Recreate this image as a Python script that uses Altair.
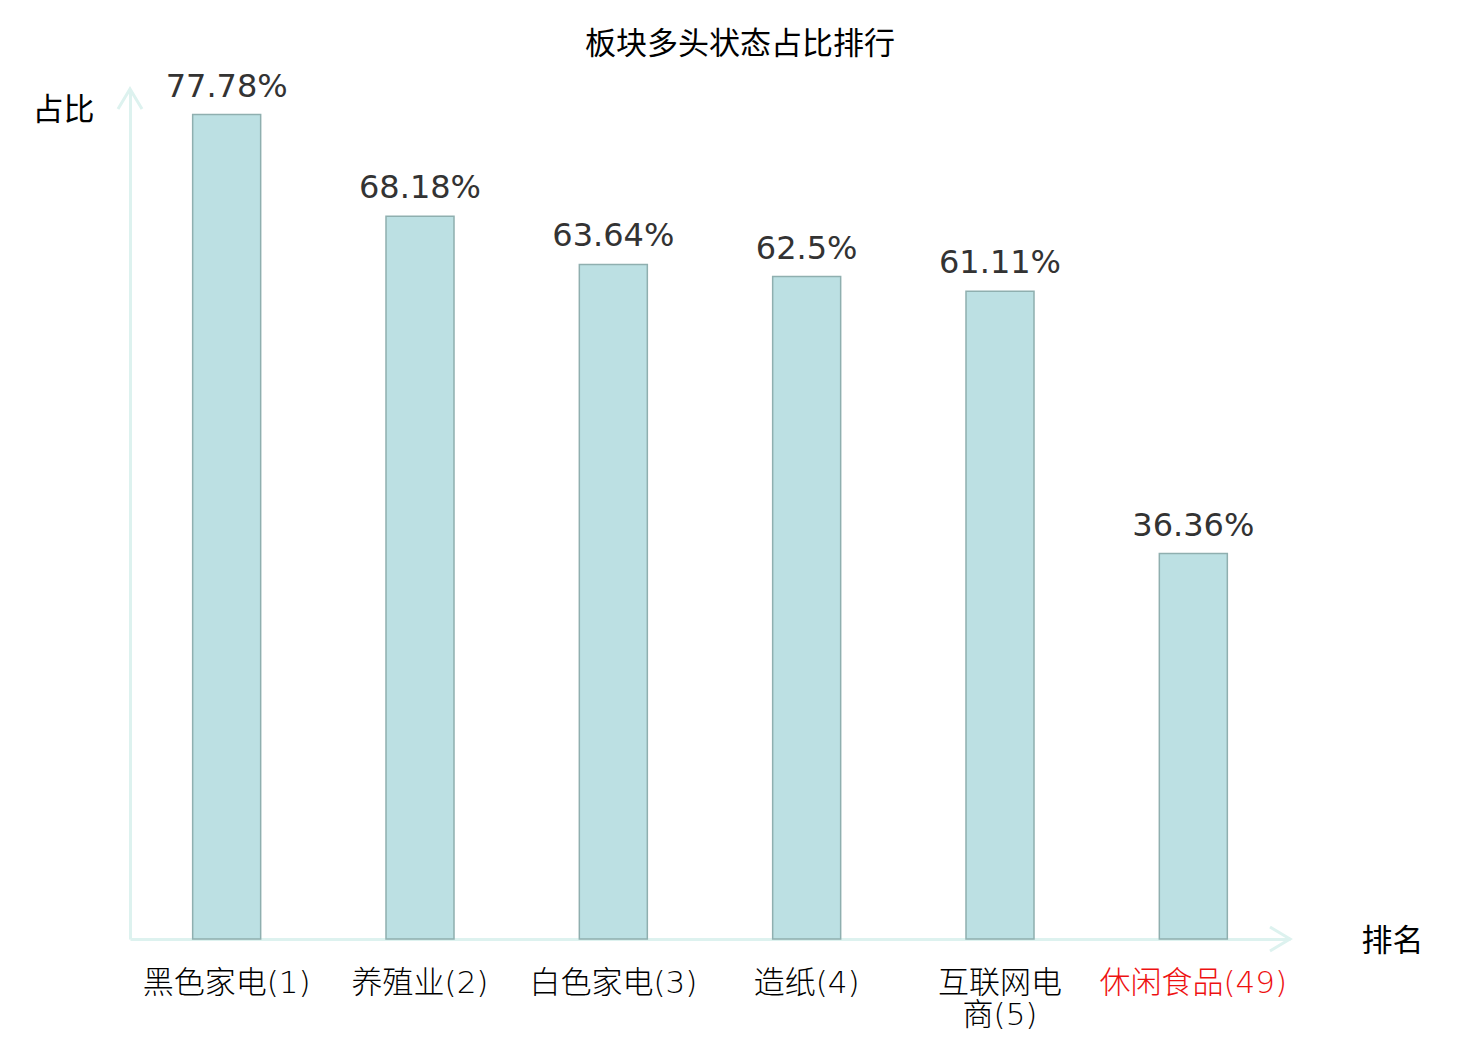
import altair as alt
import pandas as pd

categories = ["黑色家电(1)", "养殖业(2)", "白色家电(3)", "造纸(4)", "互联网电商(5)", "休闲食品(49)"]
values = [77.78, 68.18, 63.64, 62.5, 61.11, 36.36]
value_labels = [f"{v}%" for v in values]
highlight = "休闲食品(49)"
wrapped = {"互联网电商(5)": ["互联网电", "商(5)"]}

df = pd.DataFrame({"cat": categories, "val": values, "lbl": value_labels})

AXIS_COLOR = "#DDF2EF"
CJK = "Noto Sans CJK SC"
MIXED = "DejaVu Sans, Noto Sans CJK SC"

label_expr = " : ".join(
    [f"datum.value === '{k}' ? {v!r}" for k, v in wrapped.items()] + ["datum.label"]
)

x_enc = alt.X(
    "cat:N",
    sort=categories,
    scale=alt.Scale(paddingInner=0, paddingOuter=0),
    axis=alt.Axis(
        title="排名",
        titleX=1262,
        titleY=2,
        titleAlign="center",
        titleBaseline="middle",
        titleAngle=0,
        titleFont=CJK,
        titleFontSize=31,
        titleFontWeight="normal",
        titleColor="#000000",
        domainColor=AXIS_COLOR,
        domainWidth=3,
        ticks=False,
        labelAngle=0,
        labelFont=MIXED,
        labelFontSize=31,
        labelFontWeight=200,
        labelPadding=29,
        labelLineHeight=32,
        labelExpr=label_expr,
        labelColor={"condition": {"test": f"datum.value === '{highlight}'", "value": "#ee1111"}, "value": "#000000"},
        labelOverlap=False,
        labelLimit=0,
    ),
)

y_enc = alt.Y(
    "val:Q",
    scale=alt.Scale(domain=[0, 80], nice=False),
    axis=alt.Axis(
        title="占比",
        titleX=-67,
        titleY=19,
        titleAlign="center",
        titleBaseline="middle",
        titleAngle=0,
        titleFont=CJK,
        titleFontSize=31,
        titleFontWeight="normal",
        titleColor="#000000",
        domainColor=AXIS_COLOR,
        domainWidth=3,
        ticks=False,
        labels=False,
        grid=False,
    ),
)

base = alt.Chart(df)

bars = base.mark_bar(size=68, fill="#BCE0E3", stroke="#8FAFAF", strokeWidth=1.5).encode(
    x=x_enc, y=y_enc
)

texts = base.mark_text(
    baseline="alphabetic", dy=-18, fontSize=32, font="DejaVu Sans", color="#333333"
).encode(x=alt.X("cat:N", sort=categories), y="val:Q", text="lbl:N")

arrow_df = pd.DataFrame({"a": [0]})
x_arrow = alt.Chart(arrow_df).mark_point(
    shape="M -2 -1.2 L 0 0 L -2 1.2", size=400, filled=False,
    stroke=AXIS_COLOR, strokeWidth=3, opacity=1,
).encode(x=alt.value(1160), y=alt.value(848))
y_arrow = alt.Chart(arrow_df).mark_point(
    shape="M -1.2 2 L 0 0 L 1.2 2", size=400, filled=False,
    stroke=AXIS_COLOR, strokeWidth=3, opacity=1,
).encode(x=alt.value(0), y=alt.value(-2))

chart = (
    alt.layer(bars, texts, x_arrow, y_arrow)
    .properties(
        width=1160,
        height=848,
        title=alt.TitleParams(
            "板块多头状态占比排行", anchor="middle", dx=30, fontSize=31,
            font=CJK, fontWeight="normal", color="#000000", offset=10,
        ),
        autosize=alt.AutoSizeParams(type="none"),
        padding={"left": 122, "top": 83, "right": 174, "bottom": 100},
    )
    .configure(background="#ffffff")
    .configure_view(stroke="transparent", strokeWidth=0)
)

chart.save("out.html", embed_options={"renderer": "svg", "actions": False})
